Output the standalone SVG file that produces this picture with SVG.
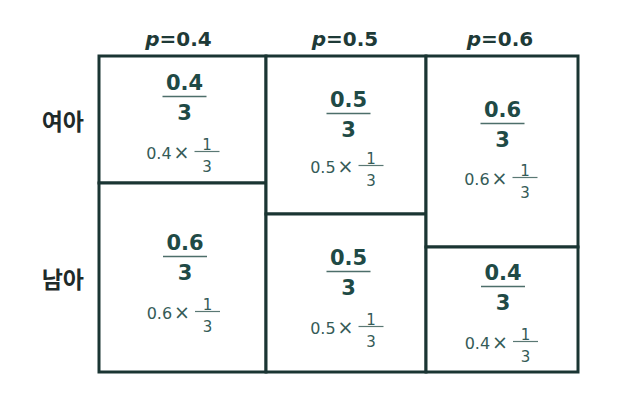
<svg xmlns="http://www.w3.org/2000/svg" width="630" height="406" viewBox="0 0 630 406">
<style>
.cell{fill:#ffffff;stroke:#1a3533;stroke-width:3}
.hd{font-family:"DejaVu Sans",sans-serif;font-weight:bold;font-size:20px;fill:#1e3a37;text-anchor:middle}
.hd .p{font-style:italic}
.rl{font-family:"Noto Sans CJK KR",sans-serif;font-weight:bold;font-size:23px;fill:#1e2a29;text-anchor:end}
.num{font-family:"DejaVu Sans",sans-serif;font-weight:bold;font-size:21px;fill:#1f4a46;text-anchor:middle}
.bar{stroke:#4d6e6a;stroke-width:1.6}
.sm{font-family:"DejaVu Sans",sans-serif;font-size:16px;fill:#355b57;text-anchor:end}
.sm .x{font-size:19px}
.sf{font-family:"DejaVu Sans",sans-serif;font-size:15px;fill:#355b57;text-anchor:middle}
.sbar{stroke:#5a7874;stroke-width:1.2}
</style>
<defs>
<g id="f1"><line class="sbar" x1="10" y1="-7.5" x2="35" y2="-7.5"/><text class="sf" x="22.5" y="-9.5">1</text><text class="sf" x="22.5" y="13">3</text></g>
</defs>
<g id="headers">
<text class="hd" x="178.5" y="46"><tspan class="p">p</tspan>=0.4</text>
<text class="hd" x="345" y="46"><tspan class="p">p</tspan>=0.5</text>
<text class="hd" x="500" y="46"><tspan class="p">p</tspan>=0.6</text>
</g>
<g id="row-labels">
<text class="rl" x="84" y="130">여아</text>
<text class="rl" x="84" y="288">남아</text>
</g>
<g id="cell-girl-04">
<rect class="cell" x="99" y="56" width="167" height="127"/>
<text class="num" x="184.5" y="90">0.4</text>
<line class="bar" x1="162.5" y1="96.5" x2="206.5" y2="96.5"/>
<text class="num" x="184.5" y="120">3</text>
<g transform="translate(184.5,159)"><text class="sm" x="5" y="0">0.4<tspan class="x" dx="2">×</tspan></text><use href="#f1"/></g>
</g>
<g id="cell-boy-04">
<rect class="cell" x="99" y="183" width="167" height="189"/>
<text class="num" x="185" y="250">0.6</text>
<line class="bar" x1="163" y1="256.5" x2="207" y2="256.5"/>
<text class="num" x="185" y="280">3</text>
<g transform="translate(185,319)"><text class="sm" x="5" y="0">0.6<tspan class="x" dx="2">×</tspan></text><use href="#f1"/></g>
</g>
<g id="cell-girl-05">
<rect class="cell" x="266" y="56" width="160" height="158"/>
<text class="num" x="348.5" y="107">0.5</text>
<line class="bar" x1="326.5" y1="113.5" x2="370.5" y2="113.5"/>
<text class="num" x="348.5" y="137">3</text>
<g transform="translate(348.5,173)"><text class="sm" x="5" y="0">0.5<tspan class="x" dx="2">×</tspan></text><use href="#f1"/></g>
</g>
<g id="cell-boy-05">
<rect class="cell" x="266" y="214" width="160" height="158"/>
<text class="num" x="348.5" y="265">0.5</text>
<line class="bar" x1="326.5" y1="271.5" x2="370.5" y2="271.5"/>
<text class="num" x="348.5" y="295">3</text>
<g transform="translate(348.5,334)"><text class="sm" x="5" y="0">0.5<tspan class="x" dx="2">×</tspan></text><use href="#f1"/></g>
</g>
<g id="cell-girl-06">
<rect class="cell" x="426" y="56" width="152" height="191"/>
<text class="num" x="502.5" y="117">0.6</text>
<line class="bar" x1="480.5" y1="123.5" x2="524.5" y2="123.5"/>
<text class="num" x="502.5" y="147">3</text>
<g transform="translate(502.5,185)"><text class="sm" x="5" y="0">0.6<tspan class="x" dx="2">×</tspan></text><use href="#f1"/></g>
</g>
<g id="cell-boy-06">
<rect class="cell" x="426" y="247" width="152" height="125"/>
<text class="num" x="503" y="280">0.4</text>
<line class="bar" x1="481" y1="286.5" x2="525" y2="286.5"/>
<text class="num" x="503" y="310">3</text>
<g transform="translate(503,349)"><text class="sm" x="5" y="0">0.4<tspan class="x" dx="2">×</tspan></text><use href="#f1"/></g>
</g>
<g id="connectors"/>
</svg>
